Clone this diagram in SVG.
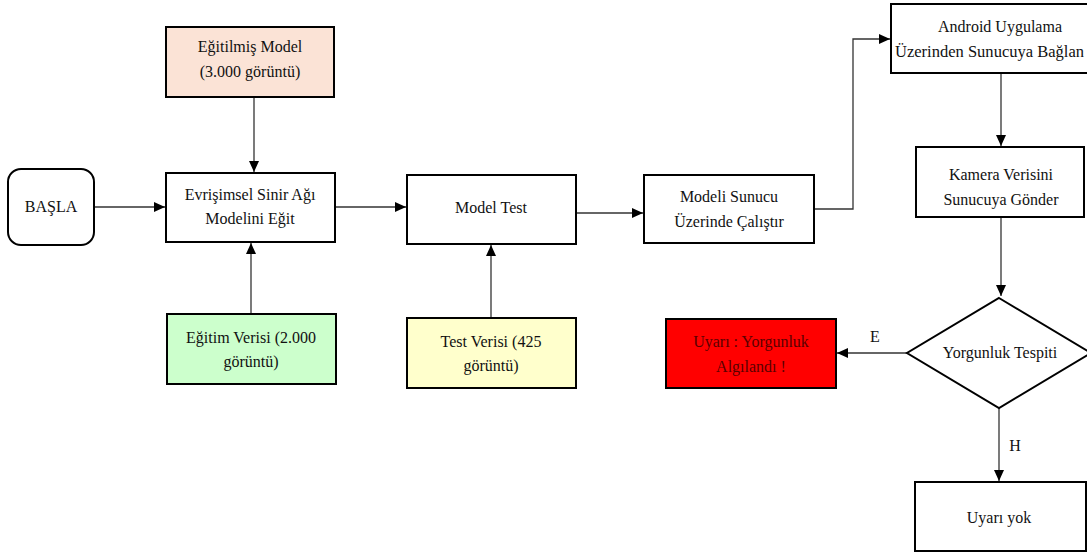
<svg xmlns="http://www.w3.org/2000/svg" width="1087" height="554" viewBox="0 0 1087 554">
<style>
.box{stroke:#000;stroke-width:2;fill:#fff}
text{font-family:'Liberation Serif','Times New Roman',Times,serif;font-size:16px;fill:#111;text-anchor:middle}
.c{fill:none;stroke:#333;stroke-width:1.3}
</style>
<defs>
<marker id="ah" markerUnits="userSpaceOnUse" markerWidth="12" markerHeight="10" refX="11" refY="5" orient="auto">
<path d="M0,0 L11,5 L0,10 Z" fill="#000"/>
</marker>
</defs>
<rect width="1087" height="554" fill="#fff"/>
<g id="connectors">
<line class="c" x1="94" y1="207" x2="165" y2="207" marker-end="url(#ah)"/>
<line class="c" x1="254" y1="97" x2="254" y2="172" marker-end="url(#ah)"/>
<line class="c" x1="251" y1="314" x2="251" y2="243" marker-end="url(#ah)"/>
<line class="c" x1="335" y1="207" x2="406" y2="207" marker-end="url(#ah)"/>
<line class="c" x1="491" y1="318" x2="491" y2="245" marker-end="url(#ah)"/>
<line class="c" x1="576" y1="213" x2="643" y2="213" marker-end="url(#ah)"/>
<polyline class="c" points="814,209 853,209 853,39 890,39" marker-end="url(#ah)"/>
<line class="c" x1="1001" y1="73" x2="1001" y2="146" marker-end="url(#ah)"/>
<line class="c" x1="1001" y1="217" x2="1001" y2="296" marker-end="url(#ah)"/>
<line class="c" x1="907" y1="353" x2="837" y2="353" marker-end="url(#ah)"/>
<line class="c" x1="999" y1="408" x2="999" y2="481" marker-end="url(#ah)"/>
<text font-family="Liberation Serif, serif" x="875" y="342">E</text>
<text font-family="Liberation Serif, serif" x="1015" y="451">H</text>
</g>
<g id="basla">
<rect class="box" x="8" y="169" width="86" height="76" rx="13"/>
<text font-family="Liberation Serif, serif" x="51" y="212">BAŞLA</text>
</g>
<g id="egitilmis-model">
<rect class="box" x="166" y="27" width="168" height="70" style="fill:#FBE3D6"/>
<text font-family="Liberation Serif, serif" x="250" y="52">Eğitilmiş Model</text>
<text font-family="Liberation Serif, serif" x="250" y="77">(3.000 görüntü)</text>
</g>
<g id="evrisimsel">
<rect class="box" x="166" y="173" width="169" height="69"/>
<text font-family="Liberation Serif, serif" x="250" y="200">Evrişimsel Sinir Ağı</text>
<text font-family="Liberation Serif, serif" x="250" y="224">Modelini Eğit</text>
</g>
<g id="egitim-verisi">
<rect class="box" x="167" y="314" width="169" height="70" style="fill:#CCFFCC"/>
<text font-family="Liberation Serif, serif" x="251" y="343">Eğitim Verisi (2.000</text>
<text font-family="Liberation Serif, serif" x="251" y="367">görüntü)</text>
</g>
<g id="model-test">
<rect class="box" x="407" y="175" width="169" height="69"/>
<text font-family="Liberation Serif, serif" x="491" y="213">Model Test</text>
</g>
<g id="test-verisi">
<rect class="box" x="407" y="318" width="169" height="70" style="fill:#FFFFCC"/>
<text font-family="Liberation Serif, serif" x="491" y="347">Test Verisi (425</text>
<text font-family="Liberation Serif, serif" x="491" y="371">görüntü)</text>
</g>
<g id="modeli-sunucu">
<rect class="box" x="644" y="175" width="170" height="68"/>
<text font-family="Liberation Serif, serif" x="729" y="202">Modeli Sunucu</text>
<text font-family="Liberation Serif, serif" x="729" y="227">Üzerinde Çalıştır</text>
</g>
<g id="android">
<rect class="box" x="891" y="4" width="220" height="69"/>
<text font-family="Liberation Serif, serif" x="1000" y="32">Android Uygulama</text>
<text font-family="Liberation Serif, serif" x="895" y="57" style="text-anchor:start" textLength="189" lengthAdjust="spacingAndGlyphs">Üzerinden Sunucuya Bağlan</text>
</g>
<g id="kamera">
<rect class="box" x="916" y="147" width="168" height="70"/>
<text font-family="Liberation Serif, serif" x="1001" y="180">Kamera Verisini</text>
<text font-family="Liberation Serif, serif" x="1001" y="205">Sunucuya Gönder</text>
</g>
<g id="yorgunluk-tespiti">
<polygon class="box" points="999,298 1091,353 999,408 907,353"/>
<text font-family="Liberation Serif, serif" x="1000" y="358">Yorgunluk Tespiti</text>
</g>
<g id="uyari">
<rect class="box" x="666" y="319" width="170" height="69" style="fill:#FF0000"/>
<text font-family="Liberation Serif, serif" x="751" y="347" style="fill:#5a0000">Uyarı : Yorgunluk</text>
<text font-family="Liberation Serif, serif" x="751" y="372" style="fill:#5a0000">Algılandı !</text>
</g>
<g id="uyari-yok">
<rect class="box" x="915" y="482" width="171" height="69"/>
<text font-family="Liberation Serif, serif" x="999" y="523">Uyarı yok</text>
</g>
</svg>
